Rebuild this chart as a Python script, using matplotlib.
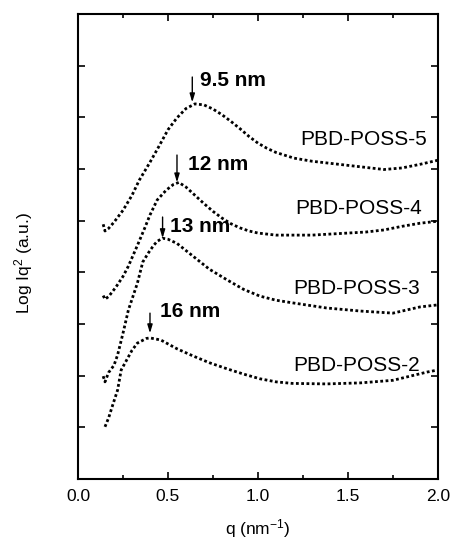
import matplotlib
matplotlib.use('Agg')
from matplotlib import pyplot as plt

plt.rcParams['font.family'] = ['Liberation Sans', 'DejaVu Sans']
plt.rcParams['mathtext.fontset'] = 'custom'
plt.rcParams['mathtext.rm'] = 'Liberation Sans'
plt.rcParams['mathtext.it'] = 'Liberation Sans'

# values (q in nm^-1, Log Iq^2 in a.u.)
q5 = [0.14, 0.15, 0.17, 0.20, 0.25, 0.30, 0.34, 0.40, 0.45, 0.50, 0.55, 0.60, 0.65,
      0.70, 0.75, 0.80, 0.85, 0.90, 0.95, 1.00, 1.05, 1.10, 1.20, 1.30, 1.40, 1.50,
      1.60, 1.70, 1.80, 1.90, 2.00]
y5 = [4.93, 4.80, 4.85, 4.97, 5.20, 5.49, 5.78, 6.13, 6.44, 6.76, 6.99, 7.17, 7.26,
      7.24, 7.16, 7.05, 6.92, 6.78, 6.63, 6.50, 6.40, 6.32, 6.21, 6.15, 6.11, 6.07,
      6.03, 5.99, 6.02, 6.09, 6.17]

q4 = [0.14, 0.15, 0.17, 0.21, 0.25, 0.28, 0.33, 0.37, 0.40, 0.44, 0.49, 0.53, 0.56,
      0.60, 0.65, 0.70, 0.75, 0.80, 0.85, 0.90, 0.95, 1.00, 1.10, 1.20, 1.30, 1.40,
      1.50, 1.60, 1.70, 1.80, 1.90, 2.00]
y4 = [3.55, 3.48, 3.53, 3.71, 3.92, 4.12, 4.52, 4.85, 5.11, 5.40, 5.59, 5.70, 5.74,
      5.65, 5.49, 5.33, 5.18, 5.05, 4.94, 4.86, 4.80, 4.76, 4.72, 4.72, 4.72, 4.74,
      4.76, 4.78, 4.82, 4.89, 4.95, 4.99]

q3 = [0.14, 0.15, 0.17, 0.20, 0.22, 0.25, 0.28, 0.33, 0.36, 0.39, 0.42, 0.44, 0.47,
      0.50, 0.55, 0.64, 0.73, 0.83, 0.92, 1.01, 1.10, 1.19, 1.38, 1.57, 1.75, 1.90,
      2.00]
y3 = [1.99, 1.88, 2.06, 2.20, 2.40, 2.82, 3.27, 3.79, 4.20, 4.37, 4.52, 4.60, 4.66,
      4.64, 4.56, 4.31, 4.06, 3.85, 3.67, 3.54, 3.46, 3.41, 3.31, 3.25, 3.21, 3.33,
      3.37]

q2 = [0.15, 0.17, 0.19, 0.22, 0.24, 0.27, 0.30, 0.33, 0.38, 0.40, 0.46, 0.55, 0.64,
      0.73, 0.83, 0.92, 1.01, 1.10, 1.19, 1.38, 1.57, 1.75, 1.94, 2.00]
y2 = [1.01, 1.18, 1.40, 1.72, 2.11, 2.30, 2.49, 2.63, 2.72, 2.73, 2.69, 2.52, 2.38,
      2.25, 2.13, 2.03, 1.94, 1.88, 1.85, 1.84, 1.86, 1.91, 2.07, 2.11]

names = ['PBD-POSS-5', 'PBD-POSS-4', 'PBD-POSS-3', 'PBD-POSS-2']
name_x = [1.94, 1.91, 1.90, 1.90]
name_y = [6.58, 5.24, 3.69, 2.20]

sizes = ['9.5 nm', '12 nm', '13 nm', '16 nm']
peak_q = [0.635, 0.55, 0.47, 0.40]
arrow_top = [7.78, 6.27, 5.07, 3.21]
arrow_tip = [7.29, 5.74, 4.66, 2.82]
size_x = [0.68, 0.61, 0.51, 0.455]
size_y = [7.72, 6.09, 4.89, 3.25]

fig = plt.figure(figsize=(4.5, 5.4), dpi=100)
ax = fig.add_axes([0.1733, 0.113, 0.8, 0.8611])

for q, y in [(q5, y5), (q4, y4), (q3, y3), (q2, y2)]:
    ax.plot(q, y, color='black', lw=2.0, ls=(0, (1, 0.9)))

for name, x, y in zip(names, name_x, name_y):
    ax.text(x, y, name, ha='right', va='center', fontsize=15)

for lab, pq, top, tip, sx, sy in zip(sizes, peak_q, arrow_top, arrow_tip, size_x, size_y):
    ax.annotate('', xy=(pq, tip), xytext=(pq, top),
                arrowprops=dict(arrowstyle='-|>,head_length=0.5,head_width=0.15',
                                color='black', lw=1.0, shrinkA=0, shrinkB=0))
    ax.text(sx, sy, lab, ha='left', va='center', fontsize=15, fontweight='bold')

ax.set_xlim(0, 2.0)
ax.set_ylim(0, 9)
ax.set_xticks([0.0, 0.5, 1.0, 1.5, 2.0])
ax.set_xticks([0.25, 0.75, 1.25, 1.75], minor=True)
ax.set_xticklabels(['0.0', '0.5', '1.0', '1.5', '2.0'])
ax.set_yticks(range(1, 9))
ax.set_yticklabels([])
ax.tick_params(which='both', direction='in', top=True, right=True, width=1.2,
               labelsize=12.5, pad=7)
ax.tick_params(which='major', length=5)
ax.tick_params(which='minor', length=3)
for s in ax.spines.values():
    s.set_linewidth(1.5)

ax.set_xlabel('q (nm$^{-1}$)', fontsize=12.5, labelpad=10)
ax.set_ylabel('Log Iq$^2$ (a.u.)', fontsize=12.5)
ax.yaxis.set_label_coords(-0.12, 0.465)

fig.savefig('out.png', dpi=100)
